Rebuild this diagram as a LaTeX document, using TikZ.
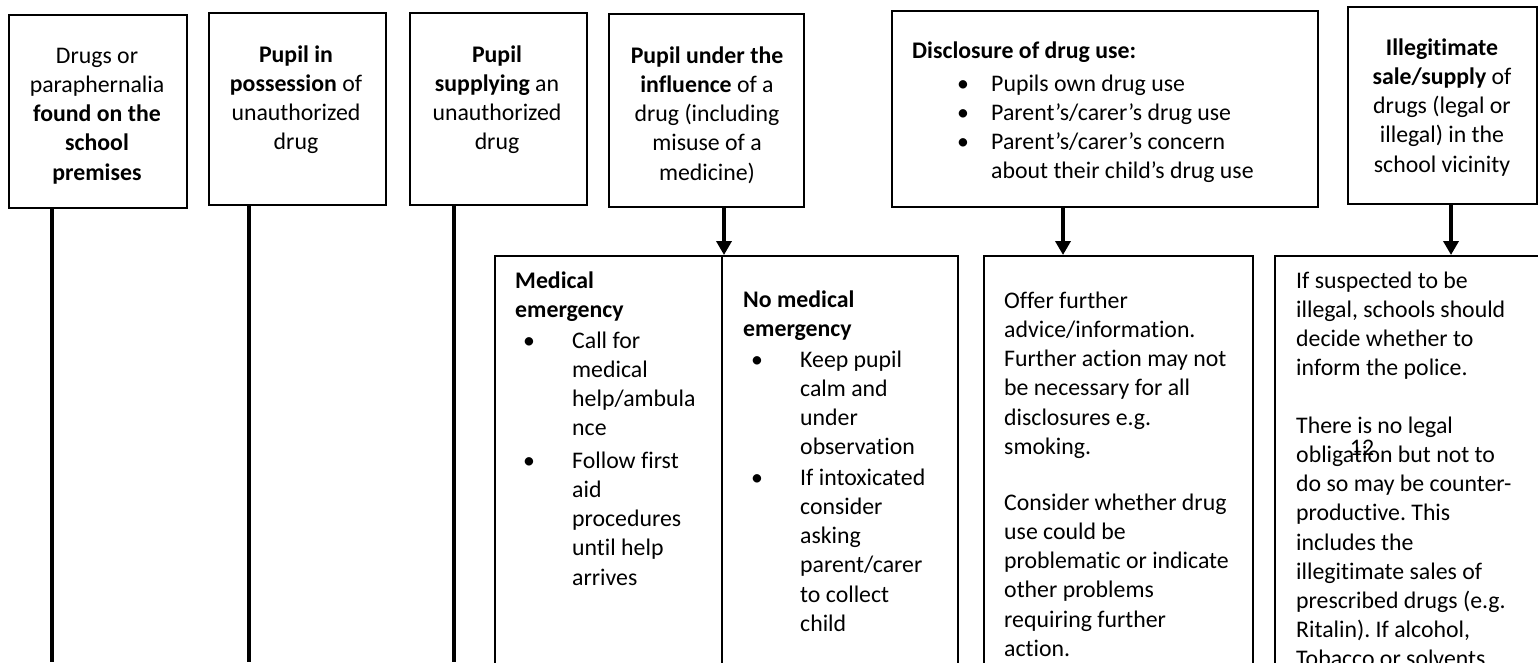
\documentclass[tikz,border=0pt]{standalone}
\usepackage{fontspec}
\setmainfont{Carlito}[Ligatures=NoCommon]
\usetikzlibrary{arrows.meta}
\frenchspacing
\begin{document}
\begin{tikzpicture}[x=1pt,y=-1pt,
  box/.style={draw, line width=1.6pt, inner sep=0pt, anchor=north west},
  txt/.style={inner sep=0pt, font=\fontsize{23.8}{29.2}\selectfont},
  ctxt/.style={txt, align=center, anchor=north},
  ltxt/.style={txt, align=left, anchor=north west},
  btxt/.style={txt, anchor=base},
  conn/.style={line width=4.5pt},
  divline/.style={line width=1.6pt},
  arr/.style={line width=4.5pt, -{Triangle[width=15pt,length=14pt]}}]
\clip (0,0) rectangle (1538,662);
\fill[white] (0,0) rectangle (1538,662);
% top boxes
\node[box, minimum width=178pt, minimum height=193pt] (b1) at (8,14) {};
\node[box, minimum width=177pt, minimum height=192pt] (b2) at (208,12) {};
\node[box, minimum width=177pt, minimum height=192pt] (b3) at (409,12) {};
\node[box, minimum width=195pt, minimum height=193pt] (b4) at (608,13) {};
\node[box, minimum width=426pt, minimum height=196pt] (b5) at (891,10) {};
\node[box, minimum width=189pt, minimum height=197pt] (b6) at (1347,6) {};
% top texts
\node[ctxt] (t1) at (97,42.6) {\strut Drugs or\\paraphernalia\\\textbf{found on the}\\\textbf{school}\\\textbf{premises}};
\node[ctxt] (t2) at (296,41.6) {\strut\textbf{Pupil in}\\\textbf{possession} of\\unauthorized\\drug};
\node[ctxt] (t3) at (497,41.6) {\strut\textbf{Pupil}\\\textbf{supplying} an\\unauthorized\\drug};
\node[ctxt] (t4) at (707,42.6) {\strut\textbf{Pupil under the}\\\textbf{influence} of a\\drug (including\\misuse of a\\medicine)};
\node[txt, anchor=base west] (t5) at (912,58) {\textbf{Disclosure of drug use:}};
\node[btxt] (d1) at (963,91) {•};
\node[btxt] (d2) at (963,120) {•};
\node[btxt] (d3) at (963,149) {•};
\node[txt, anchor=base west] (i1) at (991,91) {Pupils own drug use};
\node[txt, anchor=base west] (i2) at (991,120) {Parent’s/carer’s drug use};
\node[ltxt] (i3) at (991,128.6) {\strut Parent’s/carer’s concern\\about their child’s drug use};
\node[ctxt] (t6) at (1442,34.6) {\strut\textbf{Illegitimate}\\\textbf{sale/supply} of\\drugs (legal or\\illegal) in the\\school vicinity};
% bottom boxes
\node[box, minimum width=463pt, minimum height=460pt] (m) at (494,255) {};
\node[box, minimum width=269pt, minimum height=460pt] (o) at (983,255) {};
\node[box, minimum width=280pt, minimum height=460pt] (il) at (1274,255) {};
\coordinate (dv) at (722,0);
\draw[divline] (m.north -| dv) -- (m.south -| dv);
% medical emergency
\node[ltxt] (mh) at (515,267.6) {\strut\textbf{Medical}\\\textbf{emergency}};
\node[btxt] (mb1) at (529,348) {•};
\node[btxt] (mb2) at (529,468) {•};
\node[ltxt] (mi1) at (572,327.6) {\strut Call for\\medical\\help/ambula\\nce};
\node[ltxt] (mi2) at (572,447.6) {\strut Follow first\\aid\\procedures\\until help\\arrives};
% no medical emergency
\node[ltxt] (nh) at (743,286.6) {\strut\textbf{No medical}\\\textbf{emergency}};
\node[btxt] (nb1) at (757,367) {•};
\node[btxt] (nb2) at (757,485) {•};
\node[ltxt] (ni1) at (800,346.6) {\strut Keep pupil\\calm and\\under\\observation};
\node[ltxt] (ni2) at (800,464.6) {\strut If intoxicated\\consider\\asking\\parent/carer\\to collect\\child};
% offer box
\node[ltxt] (o1) at (1004,287.6) {\strut Offer further\\advice/information.\\Further action may not\\be necessary for all\\disclosures e.g.\\smoking.};
\node[ltxt] (o2) at (1004,489.6) {\strut Consider whether drug\\use could be\\problematic or indicate\\other problems\\requiring further\\action.};
% illegal box
\node[ltxt] (l1) at (1296,267.6) {\strut If suspected to be\\illegal, schools should\\decide whether to\\inform the police.};
\node[ltxt] (l2) at (1296,412.6) {\strut There is no legal\\obligation but not to\\do so may be counter-\\productive. This\\includes the\\illegitimate sales of\\prescribed drugs (e.g.\\Ritalin). If alcohol,\\Tobacco or solvents};
\node[btxt] (pg) at (1362,455) {12};
% connectors
\coordinate (e1) at (52,662);
\coordinate (e2) at (249,662);
\coordinate (e3) at (454,662);
\draw[conn] (b1.south -| e1) -- (e1);
\draw[conn] (b2.south -| e2) -- (e2);
\draw[conn] (b3.south -| e3) -- (e3);
\coordinate (x4) at (724,0);
\coordinate (x5) at (1063,0);
\coordinate (x6) at (1451,0);
\draw[arr] (b4.south -| x4) -- (m.north -| x4);
\draw[arr] (b5.south -| x5) -- (o.north -| x5);
\draw[arr] (b6.south -| x6) -- (il.north -| x6);
\end{tikzpicture}
\end{document}
